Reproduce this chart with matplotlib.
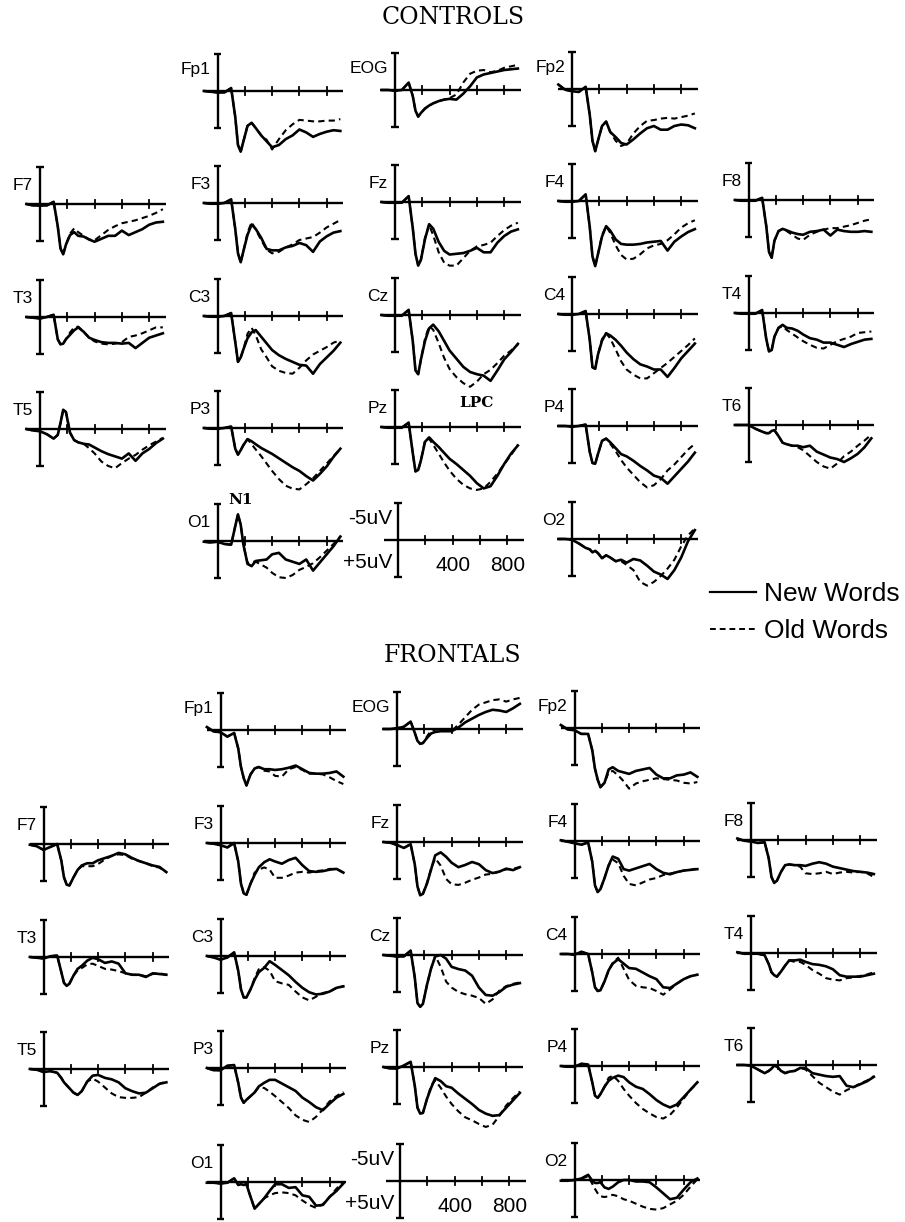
import matplotlib
matplotlib.use("Agg")
import matplotlib.pyplot as plt
from matplotlib import font_manager
from matplotlib.lines import Line2D

# sample times (ms) shared by every waveform
TIMES = [-100, -50, 0, 50, 100, 130, 150, 170, 190, 220, 250, 280, 320,
         360, 400, 450, 500, 550, 600, 650, 700, 750, 800, 850, 900]

# amplitudes in uV (plotted negative up)
CONTROLS_NEW = {
    "Fp1": [0, 0.1, 0.2, 0.2, -0.4, 3.5, 7.3, 8.2, 6.8, 4.7, 4.3, 5.0, 6.0, 6.8, 7.6, 7.3, 6.5, 6.0, 5.2, 5.6, 6.2, 5.8, 5.5, 5.3, 5.4],
    "EOG": [0, 0, 0.1, 0, -1.0, 0.8, 2.8, 3.6, 3.1, 2.5, 2.1, 1.8, 1.5, 1.3, 1.2, 1.3, 0.5, -0.5, -1.7, -2.1, -2.3, -2.5, -2.7, -2.8, -2.9],
    "Fp2": [-0.6, 0.1, 0.3, 0.4, -0.3, 3.5, 7.0, 8.4, 7.0, 5.0, 4.4, 5.8, 6.5, 7.3, 7.5, 6.8, 6.0, 5.3, 5.0, 5.5, 5.5, 5.0, 4.8, 4.9, 5.3],
    "F7": [0, 0.2, 0.2, 0.2, -0.3, 3.0, 6.0, 6.8, 5.5, 4.2, 3.8, 4.3, 4.4, 4.8, 5.1, 4.7, 4.3, 4.3, 3.6, 4.2, 3.8, 3.4, 2.8, 2.5, 2.4],
    "F3": [0, 0.1, 0.1, 0, -0.5, 3.5, 6.8, 8.0, 6.5, 4.3, 2.9, 3.5, 4.7, 6.2, 6.4, 6.4, 6.0, 5.8, 5.4, 5.7, 6.6, 5.2, 4.5, 4.0, 3.8],
    "Fz": [0, 0.1, 0.1, 0.1, -0.8, 3.5, 7.0, 8.6, 7.8, 5.0, 3.0, 3.6, 5.4, 6.6, 7.1, 7.0, 6.9, 6.6, 6.2, 6.8, 6.8, 5.5, 4.6, 4.0, 3.7],
    "F4": [0, 0.1, 0.1, 0, -0.9, 3.5, 7.5, 8.8, 7.2, 4.8, 3.4, 4.0, 5.2, 5.8, 5.9, 5.9, 5.8, 5.6, 5.5, 5.4, 6.7, 5.5, 4.8, 4.2, 3.8],
    "F8": [0, 0.1, 0.1, 0.1, -0.3, 3.5, 7.0, 7.8, 5.5, 4.2, 3.9, 4.1, 4.4, 4.6, 4.7, 4.3, 4.2, 4.0, 4.8, 4.0, 4.2, 4.3, 4.3, 4.2, 4.3],
    "T3": [0, 0.1, 0.2, 0, -0.3, 3.0, 3.7, 3.6, 3.0, 2.4, 1.8, 1.4, 2.0, 2.8, 3.1, 3.4, 3.5, 3.5, 3.6, 3.5, 4.2, 3.5, 2.8, 2.5, 2.2],
    "C3": [0, 0.1, 0.1, 0, -0.4, 3.5, 6.2, 5.6, 4.5, 3.0, 2.2, 1.9, 2.8, 3.7, 4.6, 5.3, 5.8, 6.2, 6.6, 6.7, 7.8, 6.5, 5.6, 4.7, 3.6],
    "Cz": [0, 0.1, 0.1, 0.1, -0.7, 3.5, 7.5, 8.0, 6.0, 3.5, 1.8, 1.3, 2.2, 3.5, 4.8, 5.9, 7.0, 7.7, 8.0, 8.2, 8.9, 7.5, 6.0, 5.0, 3.9],
    "C4": [0, 0.1, 0.1, 0, -0.4, 3.5, 7.2, 7.4, 5.5, 3.6, 2.6, 2.9, 3.5, 4.3, 5.2, 6.1, 6.8, 7.1, 7.5, 7.5, 8.5, 7.3, 6.0, 5.0, 4.0],
    "T4": [0, 0.1, 0.1, 0.1, -0.4, 3.5, 5.2, 5.0, 3.2, 2.0, 1.6, 2.0, 2.1, 2.4, 2.9, 3.4, 3.6, 4.0, 4.0, 4.3, 4.6, 4.2, 3.9, 3.6, 3.5],
    "T5": [0, 0.2, 0.3, 0.7, 1.3, 0.8, -0.8, -2.6, -2.3, 0.5, 1.5, 1.8, 2.0, 2.1, 2.5, 3.0, 3.4, 3.7, 4.0, 3.3, 4.3, 3.3, 2.7, 1.9, 1.3],
    "P3": [0, 0.1, 0.1, 0, -0.2, 2.8, 3.6, 3.0, 2.3, 1.5, 1.8, 2.2, 2.7, 3.1, 3.5, 4.1, 4.7, 5.3, 5.8, 6.5, 7.1, 6.2, 5.2, 3.9, 2.8],
    "Pz": [0, 0.1, 0.1, 0.1, -0.6, 3.5, 6.0, 5.8, 4.5, 2.0, 1.4, 2.0, 2.7, 3.5, 4.3, 5.0, 5.8, 6.6, 7.6, 8.3, 8.0, 6.6, 5.0, 3.6, 2.5],
    "P4": [0, 0, 0.1, 0, -0.2, 3.5, 5.0, 5.1, 3.8, 2.0, 1.7, 2.2, 3.0, 3.8, 4.1, 4.7, 5.4, 6.0, 6.7, 7.0, 7.8, 6.8, 5.8, 4.8, 3.6],
    "T6": [0, 0, 0, 0.5, 0.9, 1.1, 1.1, 0.8, 0.7, 1.5, 2.4, 2.6, 2.8, 2.8, 3.0, 2.8, 3.6, 4.0, 4.4, 4.6, 5.0, 4.5, 3.9, 3.0, 1.8],
    "O1": [0.1, 0.2, 0.1, 0.4, 0.5, -2.0, -3.6, -2.2, 0.5, 3.1, 3.4, 2.7, 2.6, 2.5, 1.8, 1.6, 2.5, 2.8, 3.1, 2.5, 4.0, 2.9, 1.8, 0.7, -0.6],
    "O2": [0, 0, 0.1, 0.6, 1.2, 1.4, 1.8, 1.6, 1.9, 2.6, 2.2, 2.5, 3.0, 2.8, 3.2, 2.7, 2.9, 3.6, 4.4, 4.8, 5.4, 4.2, 2.5, 0.3, -1.2],
}

CONTROLS_OLD = {
    "Fp1": [0, 0.1, 0.2, 0.2, -0.4, 3.5, 7.3, 8.2, 6.8, 4.7, 4.3, 5.0, 6.0, 6.6, 7.9, 6.5, 5.3, 4.5, 3.9, 4.0, 4.1, 4.1, 4.0, 4.0, 3.8],
    "EOG": [0, 0, 0.1, 0, -1.0, 0.8, 2.8, 3.6, 3.1, 2.5, 2.1, 1.8, 1.5, 1.3, 1.1, 0.6, -1.0, -2.2, -2.6, -2.7, -2.4, -2.6, -3.0, -3.2, -3.4],
    "Fp2": [-0.6, 0.1, 0.3, 0.4, -0.3, 3.5, 7.0, 8.4, 7.0, 5.0, 4.4, 5.8, 7.0, 7.7, 7.4, 6.0, 5.0, 4.3, 4.2, 4.0, 3.9, 4.0, 3.8, 3.6, 3.3],
    "F7": [0, 0.2, 0.2, 0.2, -0.3, 3.0, 6.0, 6.8, 5.5, 4.0, 3.3, 3.8, 4.3, 4.8, 4.9, 4.2, 3.5, 3.0, 2.6, 2.4, 2.2, 1.9, 1.6, 1.2, 0.7],
    "F3": [0, 0.1, 0.1, 0, -0.5, 3.5, 6.8, 8.0, 6.5, 4.0, 2.6, 3.6, 5.0, 6.3, 6.8, 6.6, 6.0, 5.6, 5.0, 4.8, 4.6, 4.0, 3.3, 2.8, 2.3],
    "Fz": [0, 0.1, 0.1, 0.1, -0.8, 3.5, 7.0, 8.6, 7.8, 4.8, 3.1, 4.5, 6.8, 8.2, 8.6, 8.6, 7.6, 6.6, 6.0, 5.8, 5.5, 4.6, 3.8, 3.2, 2.8],
    "F4": [0, 0.1, 0.1, 0, -0.9, 3.5, 7.5, 8.8, 7.2, 4.6, 3.4, 4.3, 6.0, 7.3, 7.9, 7.8, 7.2, 6.4, 6.0, 5.8, 5.3, 4.5, 3.6, 3.0, 2.6],
    "F8": [0, 0.1, 0.1, 0.1, -0.3, 3.5, 7.0, 7.8, 5.5, 4.2, 3.9, 4.2, 4.7, 5.2, 5.4, 4.7, 4.3, 4.0, 3.8, 3.8, 3.6, 3.4, 3.1, 2.8, 2.6],
    "T3": [0, 0.1, 0.2, 0, -0.3, 3.0, 3.7, 3.6, 3.0, 2.1, 1.4, 1.3, 2.0, 2.8, 3.3, 3.6, 3.7, 3.6, 3.4, 2.7, 2.5, 2.2, 1.8, 1.4, 1.4],
    "C3": [0, 0.1, 0.1, 0, -0.4, 3.5, 6.2, 5.6, 4.5, 2.4, 1.6, 2.6, 4.5, 5.6, 6.8, 7.4, 7.7, 7.8, 7.0, 6.0, 5.2, 4.7, 4.2, 3.6, 3.3],
    "Cz": [0, 0.1, 0.1, 0.1, -0.7, 3.5, 7.5, 8.0, 6.0, 3.2, 1.5, 2.0, 3.8, 5.8, 7.3, 8.4, 9.2, 9.7, 9.0, 8.0, 7.4, 6.5, 5.5, 4.8, 4.0],
    "C4": [0, 0.1, 0.1, 0, -0.4, 3.5, 7.2, 7.4, 5.5, 3.4, 2.6, 3.3, 4.8, 6.4, 7.5, 8.2, 8.7, 8.7, 8.0, 7.3, 6.6, 5.8, 5.0, 4.2, 3.3],
    "T4": [0, 0.1, 0.1, 0.1, -0.4, 3.5, 5.2, 5.0, 3.2, 2.0, 1.8, 2.3, 2.8, 3.3, 3.8, 4.3, 4.7, 4.8, 4.3, 3.8, 3.5, 3.2, 2.7, 2.6, 2.5],
    "T5": [0, 0.2, 0.3, 0.7, 1.3, 0.8, -0.8, -2.6, -2.3, 0.5, 1.5, 1.8, 2.0, 2.6, 3.3, 4.4, 5.0, 5.3, 4.6, 4.0, 3.5, 2.8, 2.2, 1.7, 1.2],
    "P3": [0, 0.1, 0.1, 0, -0.2, 2.8, 3.6, 3.0, 2.3, 1.5, 2.2, 2.9, 3.8, 4.8, 5.8, 6.9, 7.8, 8.2, 8.3, 7.6, 6.8, 5.8, 4.8, 3.8, 2.8],
    "Pz": [0, 0.1, 0.1, 0.1, -0.6, 3.5, 6.0, 5.8, 4.5, 1.8, 1.6, 2.4, 3.6, 4.8, 5.9, 7.0, 7.8, 8.3, 8.5, 8.3, 7.4, 6.3, 5.0, 3.8, 2.4],
    "P4": [0, 0, 0.1, 0, -0.2, 3.5, 5.0, 5.1, 3.8, 2.0, 1.7, 2.4, 3.4, 4.6, 5.6, 6.6, 7.6, 8.3, 8.0, 7.2, 6.0, 5.2, 4.2, 3.2, 2.4],
    "T6": [0, 0, 0, 0.5, 0.9, 1.1, 1.1, 0.8, 0.7, 1.5, 2.4, 2.6, 2.8, 3.0, 3.4, 4.2, 5.0, 5.6, 5.9, 5.2, 4.2, 3.6, 2.8, 2.1, 1.3],
    "O1": [0.1, 0.2, 0.1, 0.4, 0.5, -2.0, -3.6, -2.2, 0.5, 3.0, 2.8, 2.8, 3.2, 3.6, 4.3, 4.9, 5.0, 4.6, 3.9, 3.5, 3.0, 2.2, 1.3, 0.4, -0.6],
    "O2": [0, 0, 0.1, 0.6, 1.2, 1.4, 1.8, 1.6, 1.9, 2.6, 2.2, 2.5, 3.0, 3.0, 3.5, 4.2, 5.8, 6.3, 5.8, 5.0, 4.0, 2.8, 1.0, -0.5, -1.4],
}

FRONTALS_NEW = {
    "Fp1": [-0.4, 0.2, 0.3, 0.9, 0.4, 2.5, 5.0, 6.5, 7.5, 6.0, 5.2, 5.0, 5.3, 5.3, 5.4, 5.3, 5.1, 4.8, 5.3, 5.8, 5.9, 5.9, 5.8, 5.6, 6.3],
    "EOG": [0, 0, -0.1, -0.3, -1.0, 0.5, 1.6, 2.0, 1.9, 1.2, 0.6, 0.4, 0.3, 0.3, 0.3, -0.2, -0.9, -1.4, -1.9, -2.3, -2.6, -2.5, -2.3, -2.8, -3.4],
    "Fp2": [-0.4, 0.2, 0.3, 0.8, 0.8, 3.0, 5.5, 7.0, 8.0, 7.4, 5.6, 5.3, 5.8, 6.0, 6.2, 5.8, 5.6, 5.4, 6.3, 6.8, 6.8, 6.4, 6.3, 6.0, 6.6],
    "F7": [0.1, 0.3, 0.8, 0.4, 0.0, 2.2, 4.5, 5.5, 5.6, 4.5, 3.5, 2.9, 2.6, 2.6, 2.2, 1.9, 1.6, 1.2, 1.4, 1.9, 2.3, 2.6, 2.9, 3.1, 3.8],
    "F3": [0, 0.1, 0.3, 0.6, 0.0, 2.5, 5.5, 6.8, 7.0, 5.5, 4.3, 3.3, 2.6, 2.2, 2.5, 2.8, 2.3, 2.0, 3.0, 3.8, 3.9, 3.8, 3.6, 3.5, 4.0],
    "Fz": [0, 0.1, 0.4, 0.8, 0.3, 3.0, 6.0, 7.2, 7.0, 5.6, 3.7, 1.8, 1.4, 2.0, 2.8, 3.4, 3.1, 2.7, 3.0, 3.8, 4.2, 4.0, 3.6, 3.8, 3.4],
    "F4": [-0.1, 0.1, 0.3, 0.5, 0.2, 2.8, 6.0, 6.9, 6.5, 5.0, 3.3, 2.1, 2.4, 3.8, 4.0, 3.7, 3.4, 3.1, 3.8, 4.3, 4.5, 4.2, 4.0, 3.9, 3.8],
    "F8": [-0.2, 0.1, 0.2, 0.4, 0.3, 2.5, 5.0, 5.8, 5.5, 4.3, 3.4, 3.3, 3.4, 3.4, 3.5, 3.2, 3.0, 3.2, 3.6, 3.8, 4.0, 4.2, 4.3, 4.4, 4.6],
    "T3": [0, 0.1, 0.2, -0.1, -0.2, 2.0, 3.5, 3.9, 3.6, 2.5, 1.6, 1.2, 0.5, 0.1, 0.3, 0.8, 0.6, 0.9, 2.2, 2.4, 2.4, 2.7, 2.2, 2.3, 2.4],
    "C3": [0, 0.2, 0.5, 0.2, -0.5, 2.0, 4.5, 5.6, 5.6, 4.5, 3.2, 2.2, 1.6, 0.7, 1.2, 1.9, 2.6, 3.5, 4.3, 4.9, 5.2, 5.1, 4.8, 4.3, 4.1],
    "Cz": [0, 0.1, 0.2, 0.2, -0.6, 3.0, 6.5, 7.0, 6.6, 4.0, 1.8, 0.2, 0.0, 0.5, 1.6, 1.9, 2.1, 2.8, 4.4, 5.4, 5.5, 5.0, 4.3, 4.0, 3.8],
    "C4": [0, 0, 0.1, -0.3, 0.0, 2.5, 4.5, 5.0, 4.9, 3.7, 2.2, 1.3, 0.7, 1.3, 1.9, 2.0, 2.5, 3.0, 3.4, 4.5, 4.6, 4.0, 3.4, 3.0, 2.8],
    "T4": [-0.1, 0.1, 0.1, 0.1, 0.3, 1.5, 2.6, 3.0, 3.2, 2.5, 1.7, 1.0, 1.0, 0.9, 1.2, 1.5, 1.6, 1.8, 2.2, 3.0, 3.2, 3.2, 3.2, 3.0, 2.8],
    "T5": [0, 0.1, 0.4, 0.3, 0.5, 1.2, 1.8, 2.2, 2.6, 3.2, 3.5, 3.0, 1.7, 0.9, 0.8, 1.2, 1.4, 1.8, 2.6, 3.0, 3.3, 3.2, 2.6, 2.0, 1.8],
    "P3": [0, 0.3, 0.3, -0.3, -0.4, 2.0, 4.0, 4.7, 4.3, 3.8, 3.3, 2.5, 2.0, 1.6, 1.6, 2.1, 2.6, 3.1, 4.0, 4.6, 5.3, 5.7, 4.8, 4.0, 3.5],
    "Pz": [0, 0.2, 0.2, -0.2, -0.7, 2.5, 5.5, 6.3, 6.2, 4.3, 2.8, 1.5, 1.9, 2.6, 2.8, 3.6, 4.3, 5.0, 5.8, 6.3, 6.6, 6.5, 5.5, 4.5, 3.5],
    "P4": [0, 0.1, 0.1, -0.3, -0.2, 2.2, 4.0, 4.3, 3.8, 2.8, 2.0, 1.6, 1.3, 1.5, 2.2, 2.8, 3.1, 3.8, 4.6, 5.2, 5.6, 5.2, 4.2, 3.2, 2.2],
    "T6": [0, 0, 0.1, 0.6, 1.1, 0.8, 0.5, 0.1, 0.2, 0.8, 1.1, 0.9, 0.8, 0.4, 0.4, 1.1, 1.3, 1.5, 1.6, 1.5, 2.8, 3.0, 2.6, 2.2, 1.6],
    "O1": [0.1, 0.1, 0.2, 0.1, -0.5, 0.4, 0.3, 0.4, 0.3, 2.0, 3.6, 3.0, 2.2, 1.2, 0.3, 0.3, 0.8, 0.7, 1.8, 2.0, 3.2, 3.1, 2.0, 1.2, 0.2],
    "O2": [0.1, 0.1, 0.0, -0.2, -0.7, 0.1, 0.4, 0.4, 0.3, 1.0, 1.2, 0.9, 0.3, 0.0, 0.0, 0.2, 0.2, 0.3, 1.0, 1.8, 2.6, 2.4, 1.3, 0.3, -0.2],
}

FRONTALS_OLD = {
    "Fp1": [-0.4, 0.2, 0.3, 0.9, 0.4, 2.5, 5.0, 6.5, 7.5, 6.0, 5.2, 5.0, 5.5, 5.6, 6.2, 6.3, 5.3, 5.0, 5.4, 5.9, 5.9, 6.0, 6.4, 6.9, 7.3],
    "EOG": [0, 0, -0.1, -0.3, -1.0, 0.5, 1.6, 2.0, 1.9, 1.0, 0.2, 0.1, 0.0, 0.1, 0.3, -0.6, -1.6, -2.6, -3.3, -3.6, -3.9, -4.0, -3.7, -4.0, -4.2],
    "Fp2": [-0.4, 0.2, 0.3, 0.8, 0.8, 3.0, 5.5, 7.0, 8.0, 7.4, 6.0, 5.8, 6.4, 7.2, 8.2, 7.5, 7.2, 7.0, 6.8, 6.9, 7.0, 7.1, 7.4, 7.5, 7.3],
    "F7": [0.1, 0.3, 0.8, 0.4, 0.0, 2.2, 4.5, 5.5, 5.6, 4.5, 3.5, 3.0, 3.0, 3.0, 2.7, 2.1, 1.6, 1.4, 1.5, 2.0, 2.3, 2.6, 3.0, 3.2, 3.8],
    "F3": [0, 0.1, 0.3, 0.6, 0.0, 2.5, 5.5, 6.8, 7.0, 5.5, 4.0, 3.6, 3.3, 3.6, 4.7, 4.7, 4.4, 4.0, 3.9, 4.0, 3.8, 3.7, 3.5, 3.5, 4.0],
    "Fz": [0, 0.1, 0.4, 0.8, 0.3, 3.0, 6.0, 7.2, 7.0, 5.5, 3.6, 2.2, 3.2, 5.0, 5.7, 5.8, 5.5, 5.1, 4.8, 4.4, 4.3, 4.0, 3.7, 3.6, 3.4],
    "F4": [-0.1, 0.1, 0.3, 0.5, 0.2, 2.8, 6.0, 6.9, 6.5, 5.0, 3.3, 2.5, 3.0, 4.7, 5.8, 6.0, 5.6, 5.2, 5.0, 4.6, 4.4, 4.2, 4.0, 3.9, 3.7],
    "F8": [-0.2, 0.1, 0.2, 0.4, 0.3, 2.5, 5.0, 5.8, 5.5, 4.3, 3.4, 3.3, 3.4, 3.6, 4.5, 4.6, 4.5, 4.3, 4.6, 4.4, 4.3, 4.4, 4.3, 4.5, 5.0],
    "T3": [0, 0.1, 0.2, -0.1, -0.2, 2.0, 3.5, 3.9, 3.6, 2.5, 1.8, 1.5, 1.0, 0.9, 1.2, 1.6, 1.7, 1.9, 2.2, 2.4, 2.4, 2.6, 2.3, 2.2, 2.4],
    "C3": [0, 0.2, 0.5, 0.2, -0.5, 2.0, 4.5, 5.6, 5.6, 4.5, 3.0, 1.8, 1.5, 2.0, 3.4, 3.7, 3.9, 4.8, 5.6, 6.0, 5.5, 5.0, 4.8, 4.3, 4.1],
    "Cz": [0, 0.1, 0.2, 0.2, -0.6, 3.0, 6.5, 7.0, 6.6, 4.0, 1.8, 0.1, 1.6, 3.6, 4.4, 5.0, 5.3, 5.5, 5.8, 6.6, 6.0, 4.8, 4.2, 3.9, 3.7],
    "C4": [0, 0, 0.1, -0.3, 0.0, 2.5, 4.5, 5.0, 4.9, 3.7, 2.2, 1.2, 0.5, 2.0, 3.5, 4.3, 4.5, 4.6, 5.0, 5.5, 4.8, 4.0, 3.4, 3.0, 2.8],
    "T4": [-0.1, 0.1, 0.1, 0.1, 0.3, 1.5, 2.6, 3.0, 3.2, 2.5, 1.7, 1.0, 1.2, 1.2, 1.6, 2.3, 2.8, 3.4, 3.6, 3.7, 3.4, 3.3, 3.1, 2.9, 2.6],
    "T5": [0, 0.1, 0.4, 0.3, 0.5, 1.2, 1.8, 2.2, 2.6, 3.2, 3.5, 3.0, 1.7, 1.3, 1.7, 2.5, 3.3, 3.8, 3.9, 3.9, 3.8, 3.2, 2.5, 2.0, 1.7],
    "P3": [0, 0.3, 0.3, -0.3, -0.4, 2.0, 4.0, 4.7, 4.3, 3.8, 3.3, 2.6, 2.7, 3.2, 3.8, 4.6, 5.4, 6.4, 7.0, 7.3, 6.6, 5.6, 4.5, 3.8, 3.2],
    "Pz": [0, 0.2, 0.2, -0.2, -0.7, 2.5, 5.5, 6.3, 6.2, 4.3, 2.5, 1.8, 2.8, 4.0, 5.0, 6.0, 6.8, 7.2, 7.7, 8.1, 7.8, 6.6, 5.2, 4.2, 3.3],
    "P4": [0, 0.1, 0.1, -0.3, -0.2, 2.2, 4.0, 4.3, 3.8, 2.8, 1.6, 1.3, 2.0, 3.1, 4.0, 5.0, 5.8, 6.4, 6.9, 7.1, 6.6, 5.6, 4.4, 3.2, 2.3],
    "T6": [0, 0, 0.1, 0.6, 1.1, 0.8, 0.5, 0.1, 0.2, 0.8, 1.1, 0.9, 0.8, 0.4, 0.6, 1.5, 2.4, 3.0, 3.6, 4.0, 3.4, 3.0, 2.5, 2.1, 1.5],
    "O1": [0.1, 0.1, 0.2, 0.1, -0.5, 0.4, 0.3, 0.4, 0.3, 2.0, 3.6, 3.0, 2.2, 1.8, 1.5, 1.4, 1.5, 1.8, 2.5, 3.1, 3.5, 3.0, 2.0, 0.9, 0.0],
    "O2": [0.1, 0.1, 0.0, -0.2, -0.5, 0.5, 1.2, 1.8, 2.2, 2.3, 2.2, 2.0, 2.2, 2.6, 2.8, 3.2, 3.6, 3.9, 4.0, 3.8, 3.3, 2.8, 2.0, 0.9, -0.1],
}

GRID = [
    [None, "Fp1", "EOG", "Fp2", None],
    ["F7", "F3", "Fz", "F4", "F8"],
    ["T3", "C3", "Cz", "C4", "T4"],
    ["T5", "P3", "Pz", "P4", "T6"],
    [None, "O1", "scale", "O2", None],
]
TICKS_MS = [200, 400, 600, 800]
SCALE_UV = 5
LEGEND_LABELS = ["New Words", "Old Words"]

# ---- layout (pixels) ----
W, H = 905, 1222
PX_MS = 0.1365
PX_UV = 7.4
XLIM = (-140, 960)
YLIM = (11, -9)
TILT = 1.0

_names = {f.name for f in font_manager.fontManager.ttflist}
LABEL_FONT = "Liberation Sans Narrow" if "Liberation Sans Narrow" in _names else "Liberation Sans"
SANS = "Liberation Sans"
SERIF = "DejaVu Serif"


def panel(fig, x0, y0):
    left = x0 + XLIM[0] * PX_MS
    right = x0 + XLIM[1] * PX_MS
    top = y0 + YLIM[1] * PX_UV
    bottom = y0 + YLIM[0] * PX_UV
    ax = fig.add_axes([left / W, 1 - bottom / H, (right - left) / W, (bottom - top) / H])
    ax.set_xlim(XLIM)
    ax.set_ylim(YLIM)
    ax.axis("off")
    return ax


def draw_frame(ax):
    kw = dict(color="black", lw=1.7, solid_capstyle="butt")
    ax.plot([-100, 920], [0, 0], **kw)
    ax.plot([0, 0], [-SCALE_UV, SCALE_UV], **kw)
    for v in (-SCALE_UV, SCALE_UV):
        ax.plot([-28, 28], [v, v], **kw)
    for t in TICKS_MS:
        ax.plot([t, t], [-0.55, 0.55], color="black", lw=1.3)


def draw_group(fig, title, title_y, rows_y, cols_x, new, old, notes):
    fig.text(453 / W, 1 - title_y / H, title, ha="center", va="center",
             fontsize=17, family=SERIF)
    for r, row in enumerate(GRID):
        for c, name in enumerate(row):
            if name is None:
                continue
            x0 = cols_x[c]
            y0 = rows_y[r] - TILT * c
            if name == "scale":
                x0 += 3
            ax = panel(fig, x0, y0)
            draw_frame(ax)
            if name == "scale":
                ax.text(-40, -2.9, "-5uV", ha="right", va="center", fontsize=15, family=SANS)
                ax.text(-40, 3.0, "+5uV", ha="right", va="center", fontsize=15, family=SANS)
                for t in TICKS_MS[1::2]:
                    ax.text(t, 3.4, str(t), ha="center", va="center", fontsize=15, family=SANS)
                continue
            ax.plot(TIMES, new[name], color="black", lw=1.9)
            ax.plot(TIMES, old[name], color="black", lw=1.5, ls=(0, (3, 2)))
            lab_y = -2.9 if r == 0 else -2.5
            ax.text(-50, lab_y, name, ha="right", va="center", fontsize=12.5, family=LABEL_FONT)
            if name in notes:
                t, v, txt = notes[name]
                ax.text(t, v, txt, ha="center", va="center", fontsize=11,
                        family=SERIF, fontweight="bold")


fig = plt.figure(figsize=(W / 100, H / 100), dpi=100)
fig.patch.set_facecolor("white")

draw_group(fig, "CONTROLS", 18, [92, 204, 317, 429, 542],
           [40, 217.5, 395, 572, 748.5], CONTROLS_NEW, CONTROLS_OLD,
           {"O1": (170, -5.6, "N1"), "Pz": (600, -3.2, "LPC")})
draw_group(fig, "FRONTALS", 655, [731, 844, 957, 1069, 1183],
           [43.5, 220.5, 397, 574.5, 751], FRONTALS_NEW, FRONTALS_OLD, {})

handles = [Line2D([], [], color="black", lw=1.6),
           Line2D([], [], color="black", lw=1.4, ls=(0, (3, 2)))]
fig.legend(handles, LEGEND_LABELS, loc="upper left",
           bbox_to_anchor=(710 / W, 1 - 582 / H), frameon=False,
           prop={"family": SANS, "size": 19}, handlelength=1.75,
           handletextpad=0.3, labelspacing=0.5, borderpad=0, borderaxespad=0)

fig.savefig("out.png", dpi=100)
